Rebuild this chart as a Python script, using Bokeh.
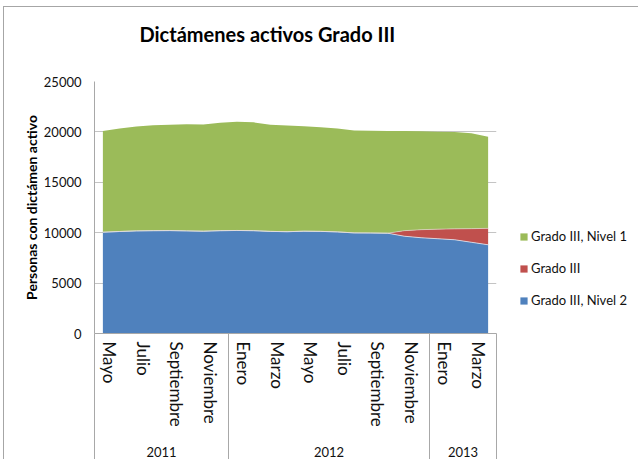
from bokeh.plotting import figure
from bokeh.models import (ColumnDataSource, Range1d, LinearAxis, FixedTicker, Legend,
                          LegendItem, NumeralTickFormatter, Title)
from bokeh.transform import stack
from bokeh.embed import file_html
from bokeh.resources import INLINE

# ---------------- data ----------------
months = ["Mayo", "Junio", "Julio", "Agosto", "Septiembre", "Octubre", "Noviembre", "Diciembre",
          "Enero", "Febrero", "Marzo", "Abril", "Mayo", "Junio", "Julio", "Agosto",
          "Septiembre", "Octubre", "Noviembre", "Diciembre",
          "Enero", "Febrero", "Marzo", "Abril"]
years = ["2011"] * 8 + ["2012"] * 12 + ["2013"] * 4

nivel2 = [10050, 10120, 10180, 10200, 10210, 10180, 10150, 10200, 10220, 10200, 10130, 10100,
          10150, 10130, 10080, 9980, 9970, 9950, 9650, 9500, 9400, 9300, 9050, 8800]
grado3 = [0, 0, 0, 0, 0, 0, 0, 0, 0, 0, 0, 0,
          0, 0, 0, 0, 0, 0, 550, 800, 950, 1080, 1350, 1630]
nivel1 = [10050, 10220, 10350, 10460, 10490, 10590, 10580, 10700, 10780, 10750, 10570, 10540,
          10420, 10340, 10260, 10160, 10140, 10150, 9880, 9770, 9660, 9600, 9470, 9080]

series_names = ["Grado III, Nivel 2", "Grado III", "Grado III, Nivel 1"]
series_colors = ["#4F81BD", "#C0504D", "#9BBB59"]
y_ticks = [0, 5000, 10000, 15000, 20000, 25000]

title_text = "Dictámenes activos Grado III"
y_label = "Personas con dictámen activo"

# ---------------- derived ----------------
x = list(range(len(months)))
source = ColumnDataSource(dict(x=x, n2=nivel2, g3=grado3, n1=nivel1))

bounds = [-0.5]
for i in range(1, len(years)):
    if years[i] != years[i - 1]:
        bounds.append(i - 0.5)
bounds.append(len(years) - 0.5)
year_labels = []
for i in range(1, len(years)):
    if years[i] != years[i - 1]:
        year_labels.append(years[i - 1])
year_labels.append(years[-1])
year_centres = [(bounds[k] + bounds[k + 1]) / 2 for k in range(len(year_labels))]

LABEL_SHIFT = 0.42          # rotated month labels sit slightly right of their category
month_idx = x[::2]
month_ticks = [round(t + LABEL_SHIFT, 2) for t in month_idx]

FONT = "Lato"
GRID = "#c4c4c4"
AXIS = "#a8a8a8"
SEP_LEN = 130

p = figure(width=622, height=450, frame_width=402, frame_height=252,
           output_backend="svg", toolbar_location=None,
           x_range=Range1d(-0.5, len(months) - 0.5), y_range=Range1d(0, 25000),
           x_axis_location=None, y_axis_location=None,
           min_border_left=90, min_border_right=10, min_border_top=73, min_border_bottom=0)
p.outline_line_color = None
p.background_fill_color = "white"
p.border_fill_color = "white"
p.styles = {"border-left": "1px solid #a6a6a6", "border-top": "1px solid #a6a6a6",
            "margin-left": "3px", "margin-top": "6px"}

rs = p.varea_stack(stackers=["n2", "g3", "n1"], x="x", color=series_colors, source=source)
p.line(x="x", y=stack("n2"), source=source, line_color="#dfe7f2", line_width=1, line_alpha=0.8)
p.line(x="x", y=stack("n2", "g3"), source=source, line_color="#ead9d8", line_width=1, line_alpha=0.6)

# title (outermost) with an invisible spacer between it and the frame
p.title.text = title_text
p.title.align = "left"
p.title.offset = 45
p.title.standoff = 24
p.title.text_font = FONT
p.title.text_font_style = "bold"
p.title.text_font_size = "20px"
p.title.text_color = "#000000"
p.add_layout(Title(text=" ", text_font_size="1px", standoff=21), "above")

# grid
p.xgrid.visible = False
p.ygrid.ticker = FixedTicker(ticks=y_ticks)
p.ygrid.grid_line_color = GRID

# y axis
yax = LinearAxis(ticker=FixedTicker(ticks=y_ticks), formatter=NumeralTickFormatter(format="0"))
yax.axis_line_color = AXIS
yax.major_tick_out = 0
yax.major_tick_in = 0
yax.minor_tick_out = 0
yax.minor_tick_in = 0
yax.major_label_standoff = 13
yax.major_label_text_font = FONT
yax.major_label_text_font_size = "13px"
yax.major_label_text_color = "#111111"
yax.axis_label = y_label
yax.axis_label_text_font = FONT
yax.axis_label_text_font_style = "bold"
yax.axis_label_text_font_size = "14px"
yax.axis_label_text_color = "#000000"
yax.axis_label_standoff = 1
p.add_layout(yax, "left")

# month axis (year separators drawn as long minor ticks)
max_ = LinearAxis(ticker=FixedTicker(ticks=month_ticks, minor_ticks=bounds))
max_.major_label_overrides = {t: months[i] for t, i in zip(month_ticks, month_idx)}
max_.major_label_orientation = "vertical"
max_.major_label_standoff = 8 - SEP_LEN
max_.major_label_text_font = FONT
max_.major_label_text_font_size = "17px"
max_.major_label_text_color = "#111111"
max_.axis_line_color = AXIS
max_.major_tick_out = 0
max_.major_tick_in = 0
max_.minor_tick_in = 0
max_.minor_tick_out = SEP_LEN
max_.minor_tick_line_color = AXIS
p.add_layout(max_, "below")

# year axis
yrax = LinearAxis(ticker=FixedTicker(ticks=year_centres, minor_ticks=[]))
yrax.major_label_overrides = {c: lab for c, lab in zip(year_centres, year_labels)}
yrax.axis_line_color = None
yrax.major_tick_line_color = None
yrax.minor_tick_line_color = None
yrax.major_label_standoff = 11
yrax.major_label_text_font = FONT
yrax.major_label_text_font_size = "13px"
yrax.major_label_text_color = "#111111"
p.add_layout(yrax, "below")

# legend in the right panel (Excel lists stacked series top to bottom)
legend = Legend(items=[LegendItem(label=series_names[i], renderers=[rs[i]]) for i in (2, 1, 0)],
                location="bottom_left", orientation="vertical")
legend.border_line_color = None
legend.background_fill_alpha = 0
legend.padding = 0
legend.margin = 23
legend.spacing = 12
legend.label_height = 20
legend.glyph_height = 9
legend.glyph_width = 9
legend.label_standoff = 3
legend.label_text_font = FONT
legend.label_text_font_size = "13px"
legend.label_text_color = "#111111"
p.add_layout(legend, "right")

open("out.html", "w").write(file_html(p, INLINE))
